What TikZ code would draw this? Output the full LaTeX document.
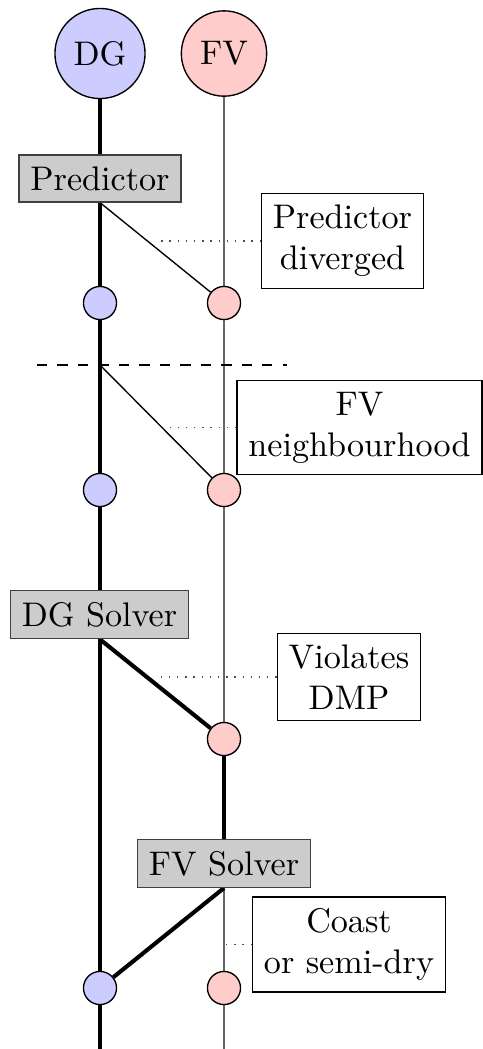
\documentclass[tikz,border=0pt]{standalone}
\usetikzlibrary{backgrounds}
\begin{document}
\begin{tikzpicture}[x=0.293pt,y=-0.293pt,
  dgbig/.style={circle,draw=black,fill=blue!20,inner sep=0pt,minimum size=26.4pt},
  fvbig/.style={circle,draw=black,fill=red!20,inner sep=0pt,minimum size=25pt},
  dgc/.style={circle,draw=black,fill=blue!20,inner sep=0pt,minimum size=9.7pt},
  fvc/.style={circle,draw=black,fill=red!20,inner sep=0pt,minimum size=9.7pt},
  stepbox/.style={draw=black!75,fill=gray!40},
  note/.style={draw=black,fill=white,align=center},
  dgline/.style={line width=1.2pt},
  fvline/.style={draw=black!60},
  link/.style={draw=black},
  dotline/.style={dotted,draw=black!70}]
\useasboundingbox (0,0) rectangle (483,1049);

\node[dgbig] (DG) at (100,53.5) {DG};
\node[fvbig] (FV) at (224,53.5) {FV};
\node[stepbox] (pred) at (100,178.5) {Predictor};
\node[note] (preddiv) at (342.5,241) {Predictor\\diverged};
\node[dgc] (dg1) at (100,303) {};
\node[fvc] (fv1) at (224,303) {};
\coordinate (dashl) at (37,365);
\coordinate (dashr) at (287,365);
\coordinate (split) at (100,365);
\node[note] (fvnb) at (359.5,427.5) {FV\\neighbourhood};
\node[dgc] (dg2) at (100,490) {};
\node[fvc] (fv2) at (224,490) {};
\node[stepbox] (dgsolver) at (99.5,614.5) {DG Solver};
\node[note] (viol) at (349,677) {Violates\\DMP};
\node[fvc] (fv3) at (224,739) {};
\node[stepbox] (fvsolver) at (224,863.5) {FV Solver};
\node[note] (coast) at (349,944.5) {Coast\\or semi-dry};
\node[dgc] (dg4) at (100,988) {};
\node[fvc] (fv4) at (224,988) {};
\coordinate (dgbot) at (100,1049);
\coordinate (fvbot) at (224,1049);

\begin{scope}[on background layer]
  \draw[dgline] (DG) -- (dgbot);
  \draw[fvline] (FV) -- (fvbot);
  \draw[link] (pred.south) -- (fv1);
  \draw[dashed] (dashl) -- (dashr);
  \draw[link] (split) -- (fv2);
  \draw[dgline] (dgsolver.south) -- (fv3);
  \draw[dgline] (fv3) -- (fvsolver);
  \draw[dgline] (fvsolver.south) -- (dg4);
  \draw[dotline] (preddiv.west) -- ++(-106,0);
  \draw[dotline] (fvnb.west) -- ++(-70,0);
  \draw[dotline] (viol.west) -- ++(-122,0);
  \draw[dotline] (coast.west) -- ++(-28,0);
\end{scope}
\end{tikzpicture}
\end{document}
